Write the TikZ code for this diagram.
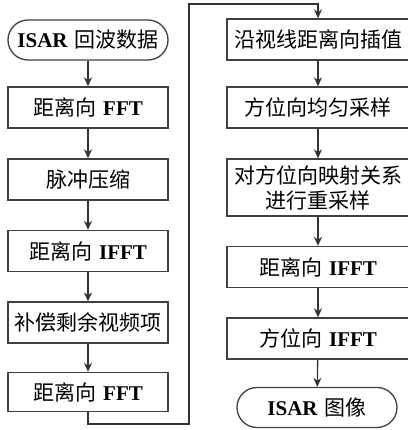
\documentclass[tikz,border=0pt]{standalone}
\usepackage{fontspec}
\setmainfont{Liberation Serif}
\newfontfamily\cjk{Noto Sans CJK SC}
\newcommand\gapsp{\hspace{7pt}}
\usetikzlibrary{arrows.meta}
\begin{document}
\begin{tikzpicture}[x=1pt,y=-1pt,
  every node/.style={font=\fontsize{21}{25}\selectfont\bfseries, inner sep=0pt, align=center},
  procbox/.style={draw=black!75, line width=1.3pt, minimum height=41pt},
  lbox/.style={procbox, minimum width=160pt},
  rbox/.style={procbox, minimum width=182pt},
  term/.style={draw=black!75, line width=1.3pt, minimum height=40pt, minimum width=160pt, rounded corners=20pt},
  flow/.style={draw=black!80, line width=1.3pt, -{Stealth[length=9pt,width=8pt]}}]
\useasboundingbox (0,0) rectangle (407,430);
\node[term] (l0) at (88,40) {ISAR\gapsp{\cjk\mdseries 回波数据}};
\node[lbox] (l1) at (88,107.5) {{\cjk\mdseries 距离向}\gapsp FFT};
\node[lbox] (l2) at (88,179.5) {\cjk\mdseries 脉冲压缩};
\node[lbox] (l3) at (88,251) {{\cjk\mdseries 距离向}\gapsp IFFT};
\node[lbox] (l4) at (88,322.5) {\cjk\mdseries 补偿剩余视频项};
\node[lbox, minimum height=39pt] (l5) at (88,392) {{\cjk\mdseries 距离向}\gapsp FFT};
\node[rbox] (r1) at (318,39.5) {\cjk\mdseries 沿视线距离向插值};
\node[rbox] (r2) at (318,107.5) {\cjk\mdseries 方位向均匀采样};
\node[rbox, minimum height=57pt] (r3) at (318,187.5) {\cjk\mdseries 对方位向映射关系\\\cjk\mdseries 进行重采样};
\node[rbox] (r4) at (318,267) {{\cjk\mdseries 距离向}\gapsp IFFT};
\node[rbox] (r5) at (318,338.5) {{\cjk\mdseries 方位向}\gapsp IFFT};
\node[term] (r6) at (317,407.5) {ISAR\gapsp{\cjk\mdseries 图像}};
\coordinate (c1) at (189,424);
\coordinate (c2) at (189,4);
\draw[flow] (l0) -- (l1);
\draw[flow] (l1) -- (l2);
\draw[flow] (l2) -- (l3);
\draw[flow] (l3) -- (l4);
\draw[flow] (l4) -- (l5);
\draw[flow] (l5.south) |- (c1) -- (c2) -| (r1.north);
\draw[flow] (r1) -- (r2);
\draw[flow] (r2) -- (r3);
\draw[flow] (r3) -- (r4);
\draw[flow] (r4) -- (r5);
\draw[flow] (r5) -- (r6);
\end{tikzpicture}
\end{document}
